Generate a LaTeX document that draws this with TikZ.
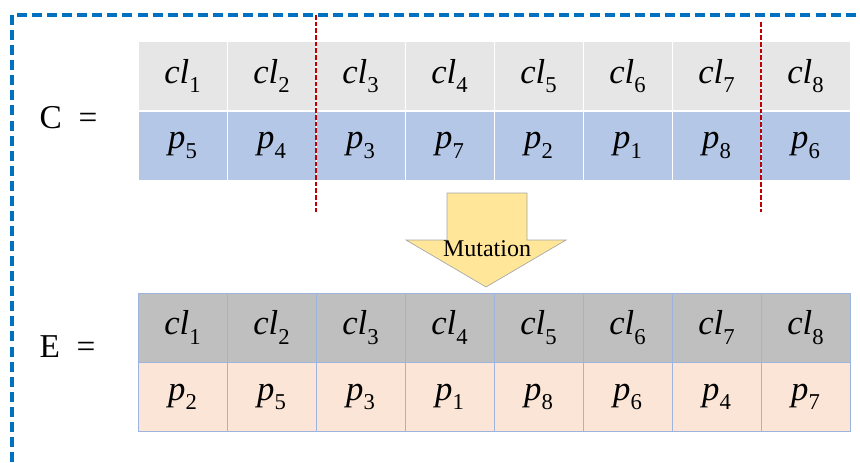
\documentclass[tikz,border=0pt]{standalone}
\usepackage{fontspec}
\setmainfont{Liberation Serif}
\usepackage{tikz}
\usetikzlibrary{positioning,calc}
\definecolor{borde}{RGB}{0,112,192}
\definecolor{corte}{RGB}{192,0,0}
\definecolor{grisclaro}{RGB}{231,230,230}
\definecolor{grisoscuro}{RGB}{191,191,191}
\definecolor{azulcelda}{RGB}{180,199,231}
\definecolor{rosacelda}{RGB}{251,229,214}
\definecolor{lineaazul}{RGB}{157,180,222}
\definecolor{flecha}{RGB}{255,230,153}
\newcommand{\gensub}[2]{\textit{#1}\raisebox{-0.6ex}{\fontsize{17}{17}\selectfont #2}}

\begin{document}
\begin{tikzpicture}[x=0.75pt, y=-0.75pt,
  celda/.style={minimum width=66.75pt, minimum height=51.75pt,
    inner sep=0pt, outer sep=0pt, font=\fontsize{26}{28}\selectfont},
  celdaC/.style={celda, draw=white, line width=0.6pt},
  celdaE/.style={celda, draw=lineaazul, line width=0.6pt},
  etiqueta/.style={anchor=base west, font=\fontsize{25}{27}\selectfont},
  tijera/.style={corte, line width=1pt, dash pattern=on 3.5pt off 1.5pt},
]
  \useasboundingbox (0,0) rectangle (860,462);
  % Marco
  \draw[borde, line width=2.3pt, dash pattern=on 7.5pt off 3.8pt]
    (12,462) -- (12,15) -- (860,15);
  % Cromosoma C
  \node[etiqueta] (labC) at (35,128) {C\hspace{0.5em}=};
  \foreach \g [count=\i] in {5,4,3,7,2,1,8,6} {
    \node[celdaC, fill=grisclaro] (c\i) at ({182.5+89*(\i-1)},76)
      {\gensub{cl}{\i}};
    \node[celdaC, fill=azulcelda] (cp\i) at ({182.5+89*(\i-1)},145.5)
      {\gensub{p}{\g}};
  }
  % Puntos de corte
  \draw[tijera] (c2.east |- 0,15) -- (c2.east |- 0,212);
  \draw[tijera] (c7.east |- 0,22) -- (c7.east |- 0,212);
  % Flecha
  \filldraw[fill=flecha, draw=gray!70, line width=0.5pt]
    (447,193) -- (527,193) -- (527,240) -- (566,240) -- (486,287)
    -- (406,240) -- (447,240) -- cycle;
  \node[anchor=base, font=\fontsize{18}{20}\selectfont] (mut) at (487,256)
    {Mutation};
  % Cromosoma E
  \node[etiqueta] (labE) at (35,357) {E\hspace{0.5em}=};
  \foreach \g [count=\i] in {2,5,3,1,8,6,4,7} {
    \node[celdaE, fill=grisoscuro] (e\i) at ({182.5+89*(\i-1)},327.5)
      {\gensub{cl}{\i}};
    \node[celdaE, fill=rosacelda] (ep\i) at ({182.5+89*(\i-1)},397)
      {\gensub{p}{\g}};
  }
\end{tikzpicture}
\end{document}
